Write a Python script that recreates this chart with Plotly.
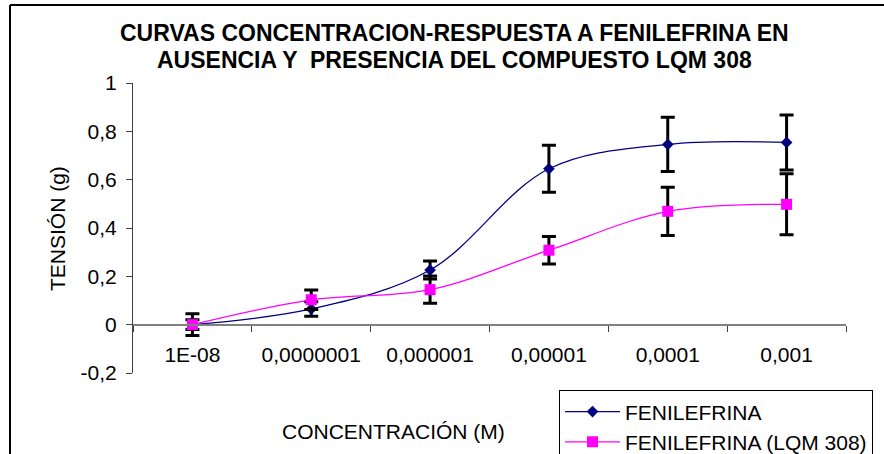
import plotly.graph_objects as go

# Concentration categories (M) and mean tension responses (g) with their error bars
concentraciones = ["1E-08", "0,0000001", "0,000001", "0,00001", "0,0001", "0,001"]

fenilefrina = [0.0, 0.065, 0.226, 0.645, 0.746, 0.754]
fenilefrina_err = [0.02, 0.03, 0.037, 0.097, 0.112, 0.114]

fenilefrina_lqm = [0.0, 0.103, 0.145, 0.308, 0.469, 0.498]
fenilefrina_lqm_err = [0.045, 0.04, 0.056, 0.057, 0.10, 0.126]

y_ticks = [-0.2, 0, 0.2, 0.4, 0.6, 0.8, 1]
y_tick_text = ["-0,2", "0", "0,2", "0,4", "0,6", "0,8", "1"]

titulo = [
    "CURVAS CONCENTRACION-RESPUESTA A FENILEFRINA EN",
    "AUSENCIA Y  PRESENCIA DEL COMPUESTO LQM 308",
]

FONT = "Liberation Sans, Arial, sans-serif"

fig = go.Figure()

fig.add_trace(go.Scatter(
    x=concentraciones, y=fenilefrina, name="FENILEFRINA",
    mode="lines+markers", legendgroup="a",
    line=dict(color="#000080", width=1.3, shape="spline", smoothing=1),
    marker=dict(symbol="diamond", size=9, color="#000080"),
    error_y=dict(type="data", array=fenilefrina_err, color="black",
                 thickness=3, width=7),
))

fig.add_trace(go.Scatter(
    x=concentraciones, y=fenilefrina_lqm, name="FENILEFRINA (LQM 308)",
    mode="lines+markers", legendgroup="b",
    line=dict(color="#FF00FF", width=1.3, shape="spline", smoothing=1),
    marker=dict(symbol="square", size=11, color="#FF00FF"),
    error_y=dict(type="data", array=fenilefrina_lqm_err, color="black",
                 thickness=3, width=7),
))

title_font = dict(family=FONT, size=23, color="black", weight="bold")

fig.update_layout(
    width=884, height=454,
    margin=dict(l=133, r=38, t=83, b=81, autoexpand=False),
    paper_bgcolor="white", plot_bgcolor="white",
    font=dict(family=FONT, size=20, color="black"),
    xaxis=dict(
        type="category", range=[-0.5, 5.5],
        anchor="free", position=0.2 / 1.2,
        showline=True, linecolor="#808080", linewidth=2,
        ticks="outside", tickson="boundaries", ticklen=6,
        tickcolor="#404040", tickwidth=1,
        ticklabelstandoff=11,
        showgrid=False, zeroline=False,
        tickfont=dict(size=21),
    ),
    yaxis=dict(
        range=[-0.2, 1], tickvals=y_ticks, ticktext=y_tick_text,
        showline=True, linecolor="#404040", linewidth=1,
        ticks="outside", ticklen=6, tickcolor="#404040",
        ticklabelstandoff=5,
        showgrid=False, zeroline=False,
        tickfont=dict(size=21),
    ),
    legend=dict(
        x=0.5975, xanchor="left", y=-0.06, yanchor="top",
        bordercolor="black", borderwidth=1,
        font=dict(size=21), tracegroupgap=0,
        itemwidth=55,
    ),
    showlegend=True,
    annotations=[
        dict(text=titulo[0], xref="paper", yref="paper",
             x=0.4516, y=1.1724, xanchor="center", yanchor="middle",
             showarrow=False, font=title_font),
        dict(text=titulo[1], xref="paper", yref="paper",
             x=0.4516, y=1.0793, xanchor="center", yanchor="middle",
             showarrow=False, font=title_font),
        dict(text="CONCENTRACIÓN (M)", xref="paper", yref="paper",
             x=0.3647, y=-0.2034, xanchor="center", yanchor="middle",
             showarrow=False, font=dict(size=21)),
        dict(text="TENSIÓN (g)", xref="paper", yref="paper",
             x=-0.1066, y=0.5, xanchor="center", yanchor="middle",
             textangle=-90, showarrow=False, font=dict(size=21)),
    ],
    shapes=[
        dict(type="line", xref="paper", yref="paper",
             x0=-0.1725, x1=-0.1725, y0=-0.4, y1=1.269,
             line=dict(color="black", width=2)),
        dict(type="line", xref="paper", yref="paper",
             x0=-0.1725, x1=1.1, y0=1.269, y1=1.269,
             line=dict(color="black", width=2)),
    ],
)

fig.write_html("out.html")
